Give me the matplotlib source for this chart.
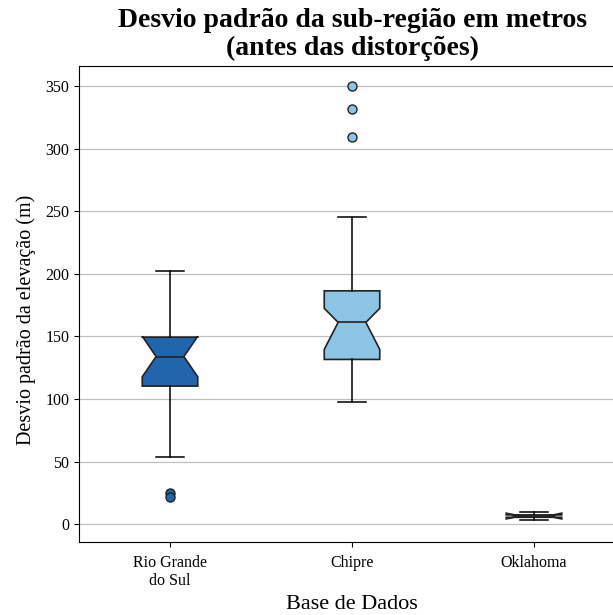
import matplotlib
matplotlib.use("Agg")
import matplotlib.pyplot as plt

plt.rcParams['font.family'] = ['Liberation Serif', 'DejaVu Serif']

# Summary statistics of the sub-region elevation standard deviation (m)
categories = ["Rio Grande\ndo Sul", "Chipre", "Oklahoma"]
medians = [133.9, 161.2, 6.5]
q1 = [110.3, 131.6, 5.5]
q3 = [149.4, 186.4, 7.4]
whisker_low = [53.5, 97.2, 3.6]
whisker_high = [202.0, 245.3, 9.4]
ci_low = [117.7, 139.6, 4.2]
ci_high = [150.1, 172.4, 8.8]
fliers = [[24.8, 21.6], [350.2, 331.8, 308.9], []]
colors = ["#2166ac", "#8ec4e3", "#3d8fd0"]

stats = []
for i, name in enumerate(categories):
    stats.append(dict(label=name, med=medians[i], q1=q1[i], q3=q3[i],
                      whislo=whisker_low[i], whishi=whisker_high[i],
                      cilo=ci_low[i], cihi=ci_high[i], fliers=fliers[i]))

fig = plt.figure(figsize=(6.13, 6.15), dpi=100)
W, H = 613, 615
ax = fig.add_axes([79 / W, (H - 541.7) / H, 546 / W, (541.7 - 66) / H])

bp = ax.bxp(stats, positions=[1, 2, 3], widths=0.305, shownotches=True,
            patch_artist=True,
            boxprops=dict(edgecolor="#222222", linewidth=1.2),
            medianprops=dict(color="#222222", linewidth=1.2),
            whiskerprops=dict(color="black", linewidth=1.1),
            capprops=dict(color="black", linewidth=1.1),
            flierprops=dict(marker="o", markersize=6.5, markeredgecolor="#222222",
                            markeredgewidth=1.0))

for patch, c, fl in zip(bp["boxes"], colors, bp["fliers"]):
    patch.set_facecolor(c)
    fl.set_markerfacecolor(c)

ax.set_xlim(0.5, 3.5)
ax.set_ylim(-14, 366)
ax.set_yticks([0, 50, 100, 150, 200, 250, 300, 350])
ax.yaxis.grid(True, color="#c0c0c0", linewidth=0.9)
ax.set_axisbelow(True)
ax.tick_params(labelsize=11.5)
ax.tick_params(axis="x", pad=6)

ax.set_title("Desvio padrão da sub-região em metros\n(antes das distorções)",
             fontsize=20, fontweight="bold", pad=8, linespacing=1.12)
ax.set_ylabel("Desvio padrão da elevação (m)", fontsize=14.5)
ax.yaxis.set_label_coords(-0.079, 0.466)
ax.set_xlabel("Base de Dados", fontsize=16, labelpad=4)

fig.savefig("out.png", dpi=100)
